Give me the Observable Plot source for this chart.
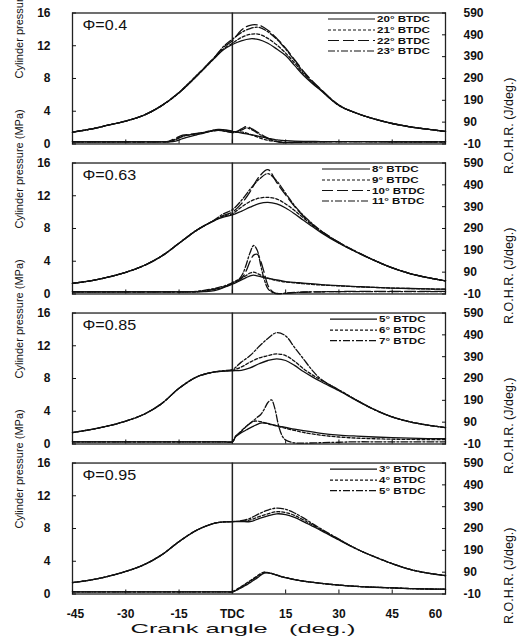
<!DOCTYPE html>
<html>
<head>
<meta charset="utf-8">
<script src="https://cdn.jsdelivr.net/npm/d3@7"></script>
<script src="https://cdn.jsdelivr.net/npm/@observablehq/plot@0.6"></script>
<style>
  html, body { margin: 0; padding: 0; background: #fff; }
  #chart { position: relative; width: 521px; height: 643px; overflow: hidden; }
  #legend { position: absolute; left: 0; top: 0; pointer-events: none; }
</style>
</head>
<body>
<div id="chart"></div>
<script>
// ---------------- data ----------------
const panels = ["Φ=0.4", "Φ=0.63", "Φ=0.85", "Φ=0.95"];
const timings = [
  ["20° BTDC", "21° BTDC", "22° BTDC", "23° BTDC"],
  ["8° BTDC", "9° BTDC", "10° BTDC", "11° BTDC"],
  ["5° BTDC", "6° BTDC", "7° BTDC"],
  ["3° BTDC", "4° BTDC", "5° BTDC"]
];
const xTicks = [-45, -30, -15, 0, 15, 30, 45, 60];
const pressureTicks = [0, 4, 8, 12, 16];
const rohrTicks = [-10, 90, 190, 290, 390, 490, 590];

// crank angle grid of the pressure traces (deg.)
const crankP = [-45,-40,-35,-30,-25,-20,-15,-10,-5,-2.5,0,2.5,5,7.5,10,12.5,15,17.5,20,22.5,25,30,35,40,45,50,55,60];
// crank angle grid of the rate of heat release traces (deg.)
const crankR = [-45,-30,-20,-18,-16,-14,-12,-10,-8,-6,-4,-2,0,1,2,3,4,5,6,7,8,9,10,11,12,13,14,15,17.5,20,25,30,35,40,45,50,55,60];

// cylinder pressure (MPa)
const pressurePhi040 = [
  [1.44,1.8,2.3,2.8,3.5,4.65,6.25,8.3,10.5,11.5,12.15,12.6,12.85,12.75,12.3,11.6,10.8,9.6,8.4,7.4,6.5,4.7,3.75,3.05,2.5,2.1,1.8,1.53],
  [1.44,1.8,2.3,2.8,3.5,4.65,6.25,8.3,10.5,11.6,12.3,13.0,13.4,13.4,12.9,12.1,11.1,9.9,8.6,7.5,6.55,4.7,3.75,3.05,2.5,2.1,1.8,1.53],
  [1.44,1.8,2.3,2.8,3.5,4.65,6.3,8.4,10.6,11.8,12.6,13.9,14.5,14.5,13.9,12.9,11.7,10.3,8.9,7.7,6.65,4.75,3.75,3.05,2.5,2.1,1.8,1.53],
  [1.44,1.8,2.3,2.8,3.5,4.65,6.3,8.4,10.6,11.9,12.8,13.6,14.1,14.25,13.7,12.8,11.6,10.2,8.8,7.6,6.6,4.75,3.75,3.05,2.5,2.1,1.8,1.53]
];
const pressurePhi063 = [
  [1.3,1.6,2.05,2.65,3.45,4.6,6.2,7.8,9.0,9.4,9.65,10.1,10.6,11.05,11.2,11.0,10.5,9.8,9.0,8.25,7.5,6.2,5.1,4.1,3.2,2.5,2.0,1.6],
  [1.3,1.6,2.05,2.65,3.45,4.6,6.2,7.8,9.0,9.5,9.8,10.6,11.3,11.7,11.8,11.6,11.0,10.2,9.3,8.4,7.6,6.25,5.1,4.1,3.2,2.5,2.0,1.6],
  [1.3,1.6,2.05,2.65,3.45,4.6,6.2,7.8,9.0,9.6,10.0,11.0,12.5,14.3,15.2,13.6,12.1,10.7,9.5,8.5,7.7,6.3,5.15,4.1,3.2,2.5,2.0,1.6],
  [1.3,1.6,2.05,2.65,3.45,4.6,6.2,7.8,9.05,9.8,10.3,11.4,12.8,14.0,14.7,13.8,12.3,10.8,9.6,8.6,7.7,6.3,5.15,4.1,3.2,2.5,2.0,1.6]
];
const pressurePhi085 = [
  [1.4,1.75,2.2,2.8,3.6,4.9,6.8,8.2,8.8,8.9,8.95,9.0,9.3,9.8,10.2,10.4,10.2,9.6,8.85,8.2,7.6,6.5,5.3,4.2,3.3,2.7,2.3,2.0],
  [1.4,1.75,2.2,2.8,3.6,4.9,6.8,8.2,8.8,8.9,9.0,9.4,10.0,10.5,10.8,11.0,10.8,10.1,9.2,8.45,7.8,6.6,5.35,4.2,3.3,2.7,2.3,2.0],
  [1.4,1.75,2.2,2.8,3.6,4.9,6.8,8.2,8.8,8.95,9.1,10.0,10.8,11.9,12.9,13.6,13.2,11.8,10.4,9.0,7.9,6.6,5.35,4.2,3.3,2.7,2.3,2.0]
];
const pressurePhi095 = [
  [1.4,1.7,2.15,2.75,3.55,4.75,6.4,7.8,8.65,8.8,8.85,8.85,8.85,9.2,9.55,9.8,9.7,9.35,8.85,8.3,7.75,6.6,5.5,4.55,3.7,3.0,2.55,2.25],
  [1.4,1.7,2.15,2.75,3.55,4.75,6.4,7.8,8.65,8.8,8.85,8.9,9.05,9.45,9.8,10.05,9.95,9.6,9.05,8.45,7.85,6.65,5.5,4.55,3.7,3.0,2.55,2.25],
  [1.4,1.7,2.15,2.75,3.55,4.75,6.4,7.8,8.65,8.8,8.85,8.95,9.25,9.8,10.25,10.5,10.35,9.9,9.3,8.6,7.95,6.7,5.5,4.55,3.7,3.0,2.55,2.25]
];

// rate of heat release (J/deg.)
const rohrPhi040 = [
  [0,0,0,0,3,14,24,32,40,49,57,55, 48,45,42,39,36,33,30,27,23,20,16,13,10,8,6,5, 3,2,1,1,1,0,0,0,0,0],
  [0,0,0,0,12,26,32,36,42,50,56,53, 47,44,46,44,40,34,28,22,16,11,7,4,2,0,-2,-3, -2,0,1,1,1,1,0,0,0,0],
  [0,0,0,2,16,30,34,38,44,50,53,49, 44,46,54,63,70,64,55,45,35,25,17,10,4,0,-3,-4, -3,-2,0,1,1,1,1,0,0,0],
  [0,0,0,1,10,24,32,37,43,48,52,48, 42,44,50,57,64,59,51,41,31,22,14,8,3,0,-3,-3, -2,-1,0,1,1,1,0,0,0,0]
];
const rohrPhi063 = [
  [0,0,0,0,0,0,0,0,1,3,10,22, 35,42,50,58,66,73,76,73,69,65,62,59,56,53,50,47, 43,40,33,28,24,20,17,15,13,12],
  [0,0,0,0,0,0,0,0,4,9,15,24, 40,48,57,66,76,86,90,84,76,68,62,57,53,50,47,45, 41,37,31,27,23,20,17,15,13,12],
  [0,0,0,0,0,0,0,1,4,9,16,25, 38,45,55,70,100,140,168,172,140,85,30,5,-6,-8,-8,-7, -4,-2,0,1,2,2,2,2,2,2],
  [0,0,0,0,0,0,0,2,6,12,19,28, 42,50,60,85,130,180,212,190,120,55,15,0,-7,-8,-8,-6, -3,-1,0,1,1,1,1,1,1,1]
];
const rohrPhi085 = [
  [0,0,0,0,0,0,0,0,0,0,0,0, 0,25,36,46,55,64,72,80,86,86,84,80,76,72,69,66, 58,51,39,31,26,22,19,17,15,14],
  [0,0,0,0,0,0,0,0,0,0,0,0, 0,28,42,58,72,85,94,95,92,88,83,78,74,70,66,62, 52,43,30,22,17,14,12,11,10,10],
  [0,0,0,0,0,0,0,0,0,0,0,0, 0,25,40,55,72,85,98,112,125,150,180,192,150,75,28,8, -5,-6,-4,-2,0,0,0,0,0,0]
];
const rohrPhi095 = [
  [0,0,0,0,0,0,0,0,0,0,0,0, 0,6,14,22,32,42,53,64,76,86,87,84,79,74,69,65, 56,49,39,31,25,21,18,15,13,12],
  [0,0,0,0,0,0,0,0,0,0,0,0, 0,9,19,29,40,51,62,73,84,90,88,84,79,74,69,65, 56,49,39,31,25,21,18,15,13,12],
  [0,0,0,0,0,0,0,0,0,0,0,0, 0,8,17,27,37,48,59,70,81,89,88,84,79,74,69,65, 56,49,39,31,25,21,18,15,13,12]
];

// ---------------- styles ----------------
const dashKinds = [
  ["solid", "dot", "dash", "dashdot"],
  ["solid", "dot", "dash", "dashdot"],
  ["solid", "dot", "dashdot"],
  ["solid", "dot", "dashdot"]
];
const dashArray = {solid: null, dot: "3,2", dash: "11,4", dashdot: "7,2,2,2"};
const ink = "#111";

// ---------------- table ----------------
const pressureAll = [pressurePhi040, pressurePhi063, pressurePhi085, pressurePhi095];
const rohrAll = [rohrPhi040, rohrPhi063, rohrPhi085, rohrPhi095];
// the right axis (J/deg.) shares the plot height with the left axis (MPa): -10..590 <-> 0..16
const toP = j => (j + 10) / 37.5;
const fromP = p => p * 37.5 - 10;

const rows = [];
panels.forEach((panel, i) => {
  timings[i].forEach((series, j) => {
    const kind = dashKinds[i][j];
    crankP.forEach((a, k) => rows.push({panel, series, kind, q: "p", x: a, y: pressureAll[i][j][k]}));
    crankR.forEach((a, k) => rows.push({panel, series, kind, q: "r", x: a, y: toP(rohrAll[i][j][k])}));
  });
});

const lineMarks = Object.keys(dashArray).map(kind =>
  Plot.line(rows.filter(d => d.kind === kind), {
    x: "x", y: "y", fy: "panel",
    z: d => d.series + "|" + d.q,
    stroke: ink, strokeWidth: 1.3,
    strokeDasharray: dashArray[kind] ?? undefined,
    curve: "catmull-rom"
  })
);

const tickFmt = d => d === 0 ? "TDC" : String(d);

const chart = Plot.plot({
  width: 521, height: 643,
  marginLeft: 72, marginRight: 76, marginTop: 12.5, marginBottom: 49.5,
  x: {domain: [-45, 60]},
  y: {domain: [0, 16]},
  fy: {domain: panels, axis: null, padding: 0.127, round: false},
  style: {fontFamily: "'Liberation Sans', Arial, sans-serif", fontSize: "12px", color: ink, background: "#fff"},
  marks: [
    Plot.frame({stroke: "#222", strokeWidth: 1.3}),
    Plot.ruleX([0], {stroke: "#222", strokeWidth: 1.5}),
    ...lineMarks,
    // left axis (MPa)
    Plot.axisY({anchor: "left", ticks: pressureTicks, tickSize: -4, tickPadding: 26, tickFormat: d => String(d), fontWeight: "bold", fontSize: 12, label: null}),
    // right axis (J/deg.)
    Plot.axisY({anchor: "right", ticks: rohrTicks.map(toP), tickSize: -4, tickPadding: 22, tickFormat: p => String(Math.round(fromP(p))), fontWeight: "bold", fontSize: 12, label: null}),
    // inward x ticks on every panel
    Plot.axisX({ticks: xTicks, tickSize: -4, tickFormat: () => "", label: null, facetAnchor: null}),
    // x tick labels on the bottom panel
    Plot.axisX({ticks: xTicks.slice(1, -1), tickSize: 0, tickPadding: 15, tickFormat: tickFmt, fontWeight: "bold", fontSize: 12, label: null}),
    Plot.axisX({ticks: xTicks.slice(0, 1), tickSize: 0, tickPadding: 15, dx: 3, tickFormat: tickFmt, fontWeight: "bold", fontSize: 12, label: null}),
    Plot.axisX({ticks: xTicks.slice(-1), tickSize: 0, tickPadding: 15, dx: -10, tickFormat: tickFmt, fontWeight: "bold", fontSize: 12, label: null}),
    // panel labels
    Plot.text(panels, {fy: d => d, text: d => d, frameAnchor: "top-left", dx: 10, dy: 12.5, textAnchor: "start", lineAnchor: "middle", fontSize: 14}),
    // axis titles
    Plot.text(panels, {fy: d => d, text: () => "Cylinder pressure (MPa)", frameAnchor: "left", dx: -53, dy: 0, rotate: -90, fontSize: 11}),
    Plot.text(panels, {fy: d => d, text: () => "R.O.H.R. (J/deg.)", frameAnchor: "right", dx: 63, dy: -1, rotate: -90, fontSize: 12.5}),
    Plot.text(panels.slice(-1), {fy: d => d, text: () => "Crank angle\u00a0\u00a0\u00a0(deg.)", frameAnchor: "bottom", dx: -16, dy: 35, lineAnchor: "middle", fontSize: 13})
  ]
});

const host = document.getElementById("chart");
host.append(chart);

// horizontally widen the (horizontal) lettering as in the reference figure
function fit(el, {factor, length}) {
  const len = el.getComputedTextLength();
  if (!len) return;
  el.setAttribute("textLength", (length ?? len * factor).toFixed(1));
  el.setAttribute("lengthAdjust", "spacingAndGlyphs");
}
d3.select(chart).selectAll("text").each(function() {
  const t = this.textContent;
  const parent = (this.parentNode.getAttribute && this.parentNode.getAttribute("aria-label")) || "";
  if (parent.includes("tick label")) fit(this, {factor: 1.3});
  else if (t.startsWith("Φ")) fit(this, {factor: 1.15});
  else if (t.startsWith("Crank")) fit(this, {length: 225});
});

// ---------------- legends ----------------
const fyScale = chart.scale("fy");
const legendLine = [[328, 375], [322, 370], [330, 377], [330, 377]];
const legendRowY = [6.5, 17.5, 28, 38.5];
const legend = d3.select(host).append("svg").attr("id", "legend").attr("width", 521).attr("height", 643);
panels.forEach((panel, i) => {
  const top = fyScale && fyScale.apply ? fyScale.apply(panel) : 12.5 + i * 150;
  const [x0, x1] = legendLine[i];
  const g = legend.append("g").attr("transform", `translate(0,${top})`);
  timings[i].forEach((t, j) => {
    const y = legendRowY[j];
    const dash = dashArray[dashKinds[i][j]];
    const ln = g.append("line").attr("x1", x0).attr("x2", x1).attr("y1", y).attr("y2", y)
      .attr("stroke", ink).attr("stroke-width", 1.2);
    if (dash) ln.attr("stroke-dasharray", dash);
    const tx = g.append("text").attr("x", x1 + 2).attr("y", y).attr("dy", "0.35em")
      .attr("font-family", "'Liberation Sans', Arial, sans-serif").attr("font-weight", "bold")
      .attr("font-size", 9.5).attr("fill", ink).text(t);
    fit(tx.node(), {factor: 1.22});
  });
});
</script>
</body>
</html>
